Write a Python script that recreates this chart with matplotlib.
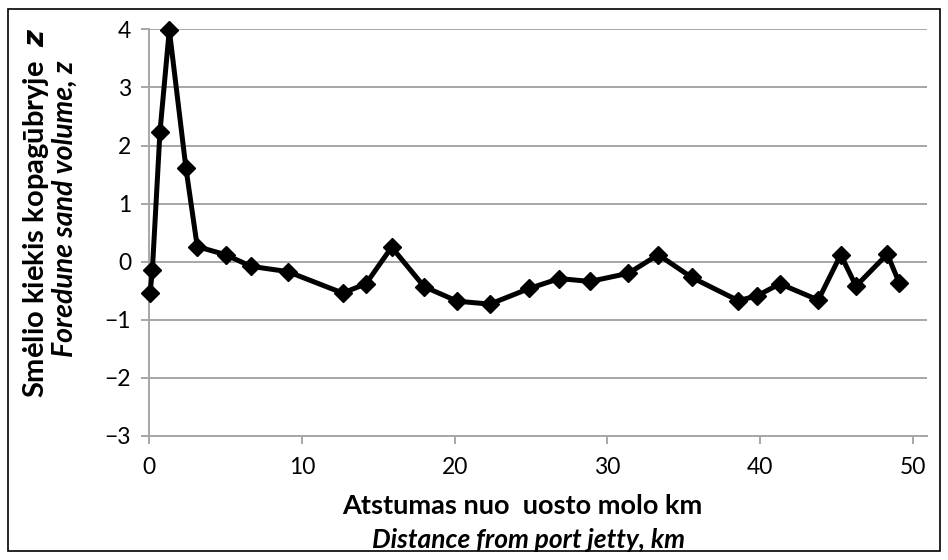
import matplotlib
matplotlib.use("Agg")
import matplotlib.pyplot as plt
from matplotlib.patches import Rectangle

# data
distance_km = [0.05, 0.2, 0.7, 1.31, 2.4, 3.14, 5.0, 6.66, 9.06, 12.67, 14.19,
               15.87, 18.0, 20.17, 22.31, 24.89, 26.85, 28.86, 31.37, 33.33,
               35.52, 38.57, 39.78, 41.3, 43.81, 45.28, 46.28, 48.33, 49.12]
sand_volume = [-0.54, -0.15, 2.24, 3.99, 1.61, 0.26, 0.12, -0.08, -0.17, -0.54,
               -0.38, 0.25, -0.43, -0.68, -0.73, -0.46, -0.29, -0.34, -0.20,
               0.12, -0.27, -0.67, -0.59, -0.38, -0.66, 0.12, -0.42, 0.13, -0.37]
x_ticks = [0, 10, 20, 30, 40, 50]
y_ticks = [-3, -2, -1, 0, 1, 2, 3, 4]

plt.rcParams['font.family'] = ['Lato', 'DejaVu Sans']
plt.rcParams['axes.unicode_minus'] = True

W, H = 948, 560
fig = plt.figure(figsize=(W / 100, H / 100), dpi=100)
ax = fig.add_axes([149.3 / W, 1 - 436 / H, (927.3 - 149.3) / W, (436 - 29.3) / H])

grid_c = '#a6a6a6'
ax.plot(distance_km, sand_volume, color='black', lw=3.6, marker='D',
        markersize=9, markeredgewidth=1, markerfacecolor='black',
        markeredgecolor='black', zorder=3, clip_on=False)

ax.set_xlim(0, 50.95)
ax.set_ylim(-3, 4)
ax.set_xticks(x_ticks)
ax.set_yticks(y_ticks)
ax.yaxis.grid(True, color=grid_c, lw=1.4)
ax.set_axisbelow(True)
for s in ['top', 'right']:
    ax.spines[s].set_visible(False)
for s in ['left', 'bottom']:
    ax.spines[s].set_color(grid_c)
    ax.spines[s].set_linewidth(1.4)
ax.tick_params(axis='both', colors=grid_c, width=1.4, length=6,
               labelcolor='black', labelsize=16.5)
ax.tick_params(axis='y', pad=7)
ax.tick_params(axis='x', pad=9)

# x labels
fig.text(522 / W, 1 - 506 / H, 'Atstumas nuo  uosto molo km', ha='center',
         va='center', fontsize=19.5, fontweight='bold')
fig.text(528 / W, 1 - 540 / H, 'Distance from port jetty, km', ha='center',
         va='center', fontsize=19, fontweight='bold', style='italic')
# y labels
fig.text(36 / W, 1 - 213 / H, r'Smėlio kiekis kopagūbryje  $\boldsymbol{z}$', ha='center',
         va='center', fontsize=21, fontweight='bold', rotation=90)
fig.text(65 / W, 1 - 209 / H, 'Foredune sand volume, z', ha='center',
         va='center', fontsize=20.5, fontweight='bold', style='italic', rotation=90)

fig.patches.append(Rectangle((8 / W, 1 - 551 / H), (940 - 8) / W, (551 - 9) / H,
                             transform=fig.transFigure, fill=False,
                             edgecolor='black', lw=1.2))

fig.savefig('out.png', dpi=100)
